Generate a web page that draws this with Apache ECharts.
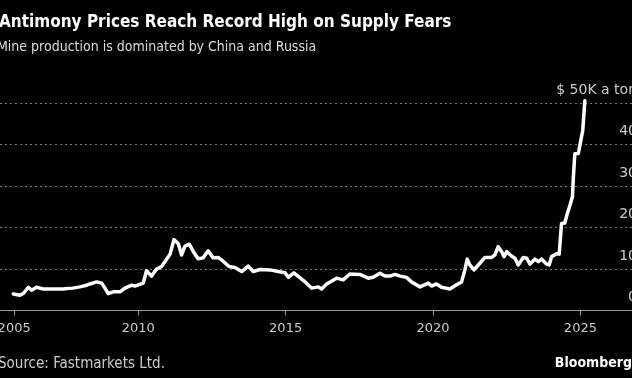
<!DOCTYPE html>
<html>
<head>
<meta charset="utf-8">
<script src="https://cdn.jsdelivr.net/npm/echarts@6/dist/echarts.min.js"></script>
<style>
html,body{margin:0;padding:0;background:#000;}
#chart{width:632px;height:378px;}
</style>
</head>
<body>
<div id="chart"></div>
<script>
// Antimony price, thousand USD per ton (decimal years)
const years = [2005.76,2005.99,2006.10,2006.27,2006.38,2006.55,2006.78,2007.17,2007.46,2007.57,2007.78,2008.02,2008.25,2008.36,2008.59,2008.76,2008.87,2008.98,2009.15,2009.38,2009.55,2009.78,2009.89,2010.17,2010.28,2010.45,2010.62,2010.79,2010.91,2011.08,2011.21,2011.36,2011.47,2011.58,2011.73,2011.87,2012.03,2012.20,2012.37,2012.54,2012.71,2012.83,2013.08,2013.28,2013.51,2013.73,2013.90,2014.13,2014.47,2014.75,2014.98,2015.09,2015.28,2015.49,2015.71,2015.88,2015.94,2016.11,2016.22,2016.39,2016.73,2016.95,2017.18,2017.52,2017.80,2017.97,2018.20,2018.37,2018.54,2018.71,2018.88,2019.10,2019.27,2019.56,2019.84,2019.95,2020.12,2020.29,2020.57,2020.80,2020.97,2021.08,2021.16,2021.25,2021.39,2021.59,2021.76,2021.99,2022.10,2022.21,2022.33,2022.41,2022.50,2022.67,2022.78,2022.89,2023.06,2023.18,2023.29,2023.46,2023.57,2023.68,2023.85,2023.94,2024.02,2024.19,2024.28,2024.36,2024.47,2024.56,2024.64,2024.73,2024.76,2024.81,2024.93,2025.00,2025.08,2025.15];
const prices = [4.0,3.7,4.1,5.6,4.9,5.6,5.2,5.2,5.2,5.3,5.4,5.7,6.1,6.4,6.9,6.6,5.4,4.1,4.5,4.5,5.4,6.1,5.9,6.6,9.6,8.3,10.0,10.6,11.8,13.6,17.1,16.1,13.4,15.5,16.0,14.2,12.5,12.7,14.4,12.7,12.8,12.2,10.6,10.4,9.4,10.7,9.4,9.9,9.8,9.4,9.1,8.0,9.1,7.9,6.6,5.4,5.1,5.7,5.2,6.4,7.8,7.4,8.8,8.7,7.8,8.0,9.0,8.3,8.3,8.7,8.3,8.0,6.9,5.7,6.6,5.9,6.4,5.6,5.2,6.2,6.9,9.8,12.4,11.0,9.8,11.4,12.8,12.8,13.4,15.4,14.2,13.0,14.2,13.1,12.6,11.0,12.8,12.6,11.2,12.4,11.8,12.4,11.2,11.0,13.0,13.7,13.6,21.0,21.1,23.5,25.3,27.5,32.0,37.8,37.9,40.5,43.5,50.6];
const tickValues = [2005.79, 2010, 2015, 2020, 2025];
const tickLabels = ['2005', '2010', '2015', '2020', '2025'];
const yTicks = [0, 10, 20, 30, 40, 50];

const FONT = 'Liberation Sans Narrow, DejaVu Sans Condensed, sans-serif';
const chart = echarts.init(document.getElementById('chart'));
chart.setOption({
  backgroundColor: '#000',
  animation: false,
  title: [
    {text: 'Antimony Prices Reach Record High on Supply Fears', left: -1, top: 14, padding: 0,
     textStyle: {color: '#fff', fontSize: 17, fontWeight: 'bold', fontFamily: FONT}},
    {text: 'Mine production is dominated by China and Russia', left: -3, top: 40, padding: 0,
     textStyle: {color: '#ddd', fontSize: 14, fontWeight: 'normal', fontFamily: FONT}},
    {text: 'Source: Fastmarkets Ltd.', left: -2, top: 357, padding: 0,
     textStyle: {color: '#ccc', fontSize: 15, fontWeight: 'normal', fontFamily: FONT}},
    {text: 'Bloomberg', right: 0, top: 356, padding: 0,
     textStyle: {color: '#fff', fontSize: 14, fontWeight: 'bold', fontFamily: FONT}}
  ],
  grid: {left: 0, right: 0, top: 103.3, bottom: 67.5, containLabel: false, outerBoundsMode: 'none'},
  xAxis: {
    type: 'value', min: 2005.31, max: 2026.75,
    splitLine: {show: false},
    axisLine: {show: true, onZero: false, lineStyle: {color: '#999', width: 1}},
    axisTick: {show: true, length: 5, customValues: tickValues, lineStyle: {color: '#999'}},
    axisLabel: {show: true, customValues: tickValues, margin: 12, color: '#ccc', fontSize: 13,
      fontFamily: 'DejaVu Sans, sans-serif',
      formatter: function (v) { const i = tickValues.indexOf(v); return i >= 0 ? tickLabels[i] : ''; }}
  },
  yAxis: {
    type: 'value', position: 'right', min: 0, max: 50, interval: 10,
    axisLine: {show: false}, axisTick: {show: false},
    splitLine: {show: true, lineStyle: {color: '#777', type: [2, 3], width: 1}},
    axisLabel: {inside: true, margin: -5, verticalAlign: 'bottom', padding: [0, 0, 6, 0],
      color: '#ccc', fontSize: 14, fontFamily: 'DejaVu Sans, sans-serif',
      formatter: function (v) { return v === yTicks[yTicks.length - 1] ? '$ ' + v + 'K a ton' : String(v); }}
  },
  series: [{
    type: 'line', showSymbol: false, clip: false,
    data: years.map((y, i) => [y, prices[i]]),
    lineStyle: {color: '#fff', width: 3.5, join: 'round', cap: 'round'},
    z: 5
  }]
});
</script>
</body>
</html>
